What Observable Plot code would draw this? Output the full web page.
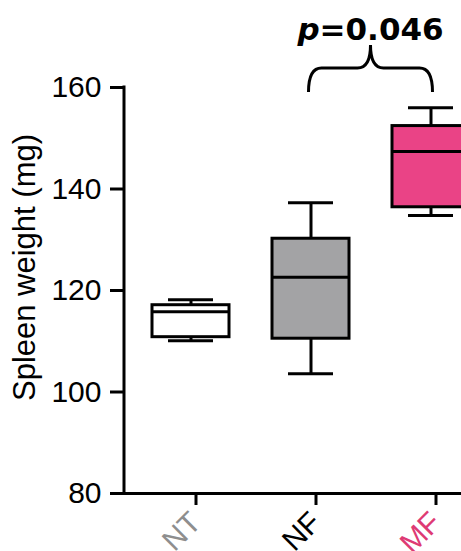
<!DOCTYPE html>
<html><head><meta charset="utf-8">
<script src="https://cdn.jsdelivr.net/npm/d3@7"></script>
<script src="https://cdn.jsdelivr.net/npm/@observablehq/plot@0.6"></script>
<style>html,body{margin:0;padding:0;background:#fff;overflow:hidden}</style>
</head><body><div id="chart"></div>
<script>
const groups = ["NT", "NF", "MF"];
const mins = [110.1, 103.6, 134.8];
const q1s = [110.8, 110.5, 136.4];
const medians = [115.8, 122.6, 147.4];
const q3s = [117.1, 130.2, 152.4];
const maxs = [118.2, 137.3, 156.0];
const boxFills = ["#ffffff", "#a3a3a5", "#ea4386"];
const labelColors = ["#8e8e8e", "#000000", "#de3a74"];
const yTicks = [80, 100, 120, 140, 160];
const yLabel = "Spleen weight (mg)";
const compFrom = "NF", compTo = "MF", compP = "=0.046", compY = 159;

const rows = groups.map((g, i) => ({group: g, min: mins[i], q1: q1s[i], median: medians[i], q3: q3s[i], max: maxs[i], fill: boxFills[i]}));

function center(x, v) {
  const bw = typeof x.bandwidth === "function" ? x.bandwidth() : 0;
  return x(v) + bw / 2;
}

function yAxisLine(index, scales, values, dimensions) {
  const y = scales.y;
  const x0 = dimensions.marginLeft;
  return d3.create("svg:line")
    .attr("x1", x0).attr("x2", x0)
    .attr("y1", y(yTicks[0])).attr("y2", y(yTicks[yTicks.length - 1]))
    .attr("stroke", "#000").attr("stroke-width", 3).attr("stroke-linecap", "square")
    .node();
}

function braceMark(index, scales, values, dimensions) {
  const x = scales.x, y = scales.y;
  const L = center(x, compFrom) - 2, R = center(x, compTo) + 2;
  const C = (L + R) / 2;
  const yb = y(compY), ym = yb - 24, yt = yb - 47, r = 13;
  const g = d3.create("svg:g");
  g.append("path")
    .attr("d", `M${L},${yb} Q${L},${ym} ${L + r},${ym} H${C - r} Q${C},${ym} ${C},${yt} Q${C},${ym} ${C + r},${ym} H${R - r} Q${R},${ym} ${R},${yb}`)
    .attr("fill", "none").attr("stroke", "#000").attr("stroke-width", 3);
  const t = g.append("text")
    .attr("x", C).attr("y", yt - 5)
    .attr("text-anchor", "middle")
    .attr("font-family", "DejaVu Sans").attr("font-weight", "bold").attr("font-size", 31).attr("fill", "#000");
  t.append("tspan").attr("font-style", "italic").text("p");
  t.append("tspan").text(compP);
  return g.node();
}

const plot = Plot.plot({
  width: 461, height: 551,
  marginLeft: 124, marginRight: 0, marginTop: 87, marginBottom: 58,
  style: {fontFamily: "Liberation Sans, Arial, sans-serif", background: "#fff", overflow: "hidden"},
  x: {type: "band", domain: groups, range: [129.75, 491.25], paddingInner: 0.361, paddingOuter: 0.1805, label: null},
  y: {domain: [80, 160], label: null},
  color: {type: "identity"},
  marks: [
    Plot.ruleX(rows, {x: "group", y1: "q3", y2: "max", strokeWidth: 3}),
    Plot.ruleX(rows, {x: "group", y1: "min", y2: "q1", strokeWidth: 3}),
    Plot.barY(rows, {x: "group", y1: "q1", y2: "q3", fill: "fill", stroke: "#000", strokeWidth: 3}),
    Plot.tickY(rows, {x: "group", y: "median", strokeWidth: 3}),
    Plot.tickY(rows, {x: "group", y: "max", strokeWidth: 3, inset: 16}),
    Plot.tickY(rows, {x: "group", y: "min", strokeWidth: 3, inset: 16}),
    Plot.axisY({ticks: yTicks, tickSize: 14, tickPadding: 9, strokeWidth: 3, fontSize: 30, label: null, tickFormat: d => String(d), fill: "#000"}),
    Plot.axisX({tickSize: 12, strokeWidth: 3, fontSize: 30, tickRotate: -45, tickPadding: 12, dx: 5, label: null, fill: d => labelColors[groups.indexOf(d)]}),
    Plot.ruleY([80], {strokeWidth: 3}),
    yAxisLine,
    braceMark,
    Plot.text([yLabel], {frameAnchor: "left", textAnchor: "middle", dx: -99, dy: -23, rotate: -90, fontSize: 31, fill: "#000"})
  ]
});
document.getElementById("chart").append(plot);
</script>
</body></html>
